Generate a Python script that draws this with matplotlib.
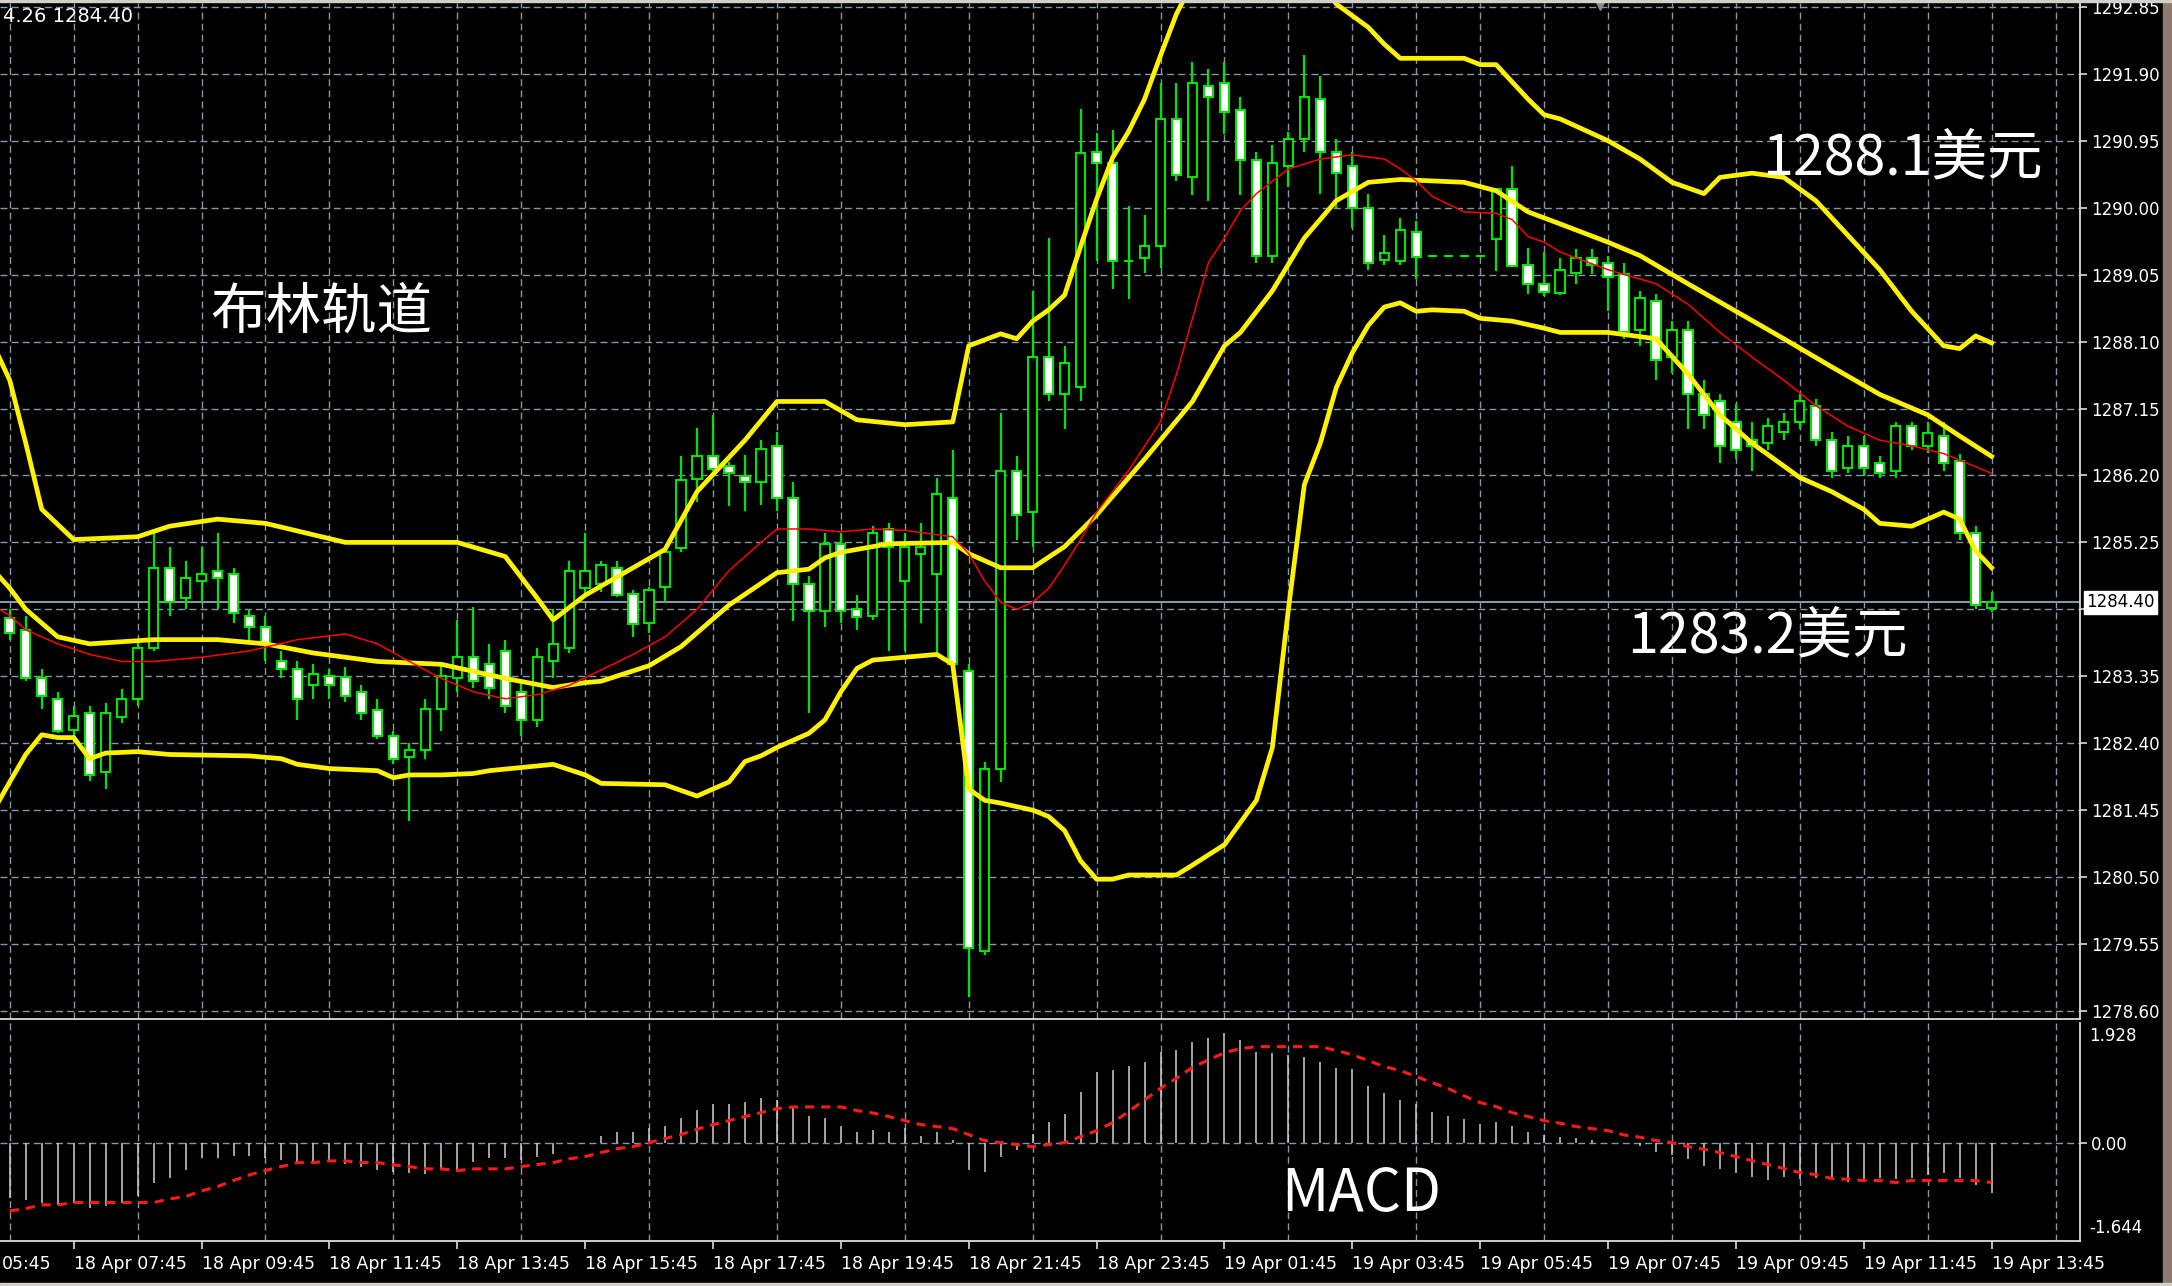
import numpy as np
import matplotlib.pyplot as plt

# 15 minute bars, 18 Apr 06:45 .. 19 Apr 13:45
opens = [1284.17, 1284.01, 1283.32, 1283.03, 1282.59, 1282.83, 1281.99, 1282.77, 1283.03, 1283.75,
         1284.89, 1284.46, 1284.70, 1284.85, 1284.80, 1284.21, 1284.05, 1283.56, 1283.46, 1283.22,
         1283.36, 1283.34, 1283.13, 1282.87, 1282.50, 1282.20, 1282.30, 1282.89, 1283.32, 1283.62,
         1283.52, 1283.71, 1283.13, 1282.73, 1283.56, 1283.75, 1284.60, 1284.66, 1284.89, 1284.52,
         1284.11, 1284.62, 1285.17, 1286.15, 1286.47, 1286.33, 1286.19, 1286.11, 1286.62, 1285.88,
         1284.66, 1284.28, 1285.23, 1284.30, 1284.21, 1285.44, 1284.70, 1285.09, 1284.80, 1285.88,
         1283.42, 1279.45, 1282.04, 1286.27, 1285.68, 1287.88, 1287.35, 1287.45, 1290.79, 1290.64,
         1289.25, 1289.28, 1289.45, 1291.26, 1290.43, 1291.73, 1291.77, 1291.38, 1290.67, 1289.31,
         1290.59, 1290.98, 1291.54, 1290.79, 1290.59, 1290.00, 1289.26, 1289.24, 1289.65, 1289.32,
         1289.32, 1289.32, 1289.32, 1289.55, 1290.26, 1289.19, 1288.91, 1288.79, 1289.08, 1289.28,
         1289.22, 1289.06, 1288.27, 1288.67, 1287.88, 1288.27, 1287.35, 1287.25, 1286.96, 1286.70,
         1286.66, 1286.82, 1286.96, 1287.19, 1286.70, 1286.31, 1286.62, 1286.37, 1286.27, 1286.90,
         1286.62, 1286.76, 1286.41, 1285.39, 1284.32]
highs = [1284.30, 1284.21, 1283.46, 1283.13, 1282.93, 1282.93, 1282.97, 1283.17, 1283.87, 1285.38,
         1285.19, 1284.99, 1285.19, 1285.38, 1284.89, 1284.30, 1284.21, 1283.71, 1283.56, 1283.52,
         1283.46, 1283.48, 1283.22, 1283.03, 1282.58, 1282.40, 1283.03, 1283.52, 1284.15, 1284.34,
         1283.81, 1283.87, 1283.28, 1283.75, 1284.30, 1284.99, 1285.38, 1284.99, 1284.99, 1284.58,
         1284.62, 1285.15, 1286.48, 1286.88, 1287.06, 1286.39, 1286.49, 1286.70, 1286.82, 1286.11,
         1284.78, 1285.38, 1285.38, 1284.50, 1285.48, 1285.52, 1285.38, 1285.52, 1286.17, 1286.56,
         1283.52, 1282.14, 1287.09, 1286.47, 1288.82, 1289.57, 1288.04, 1291.40, 1291.06, 1291.10,
         1290.02, 1289.90, 1291.77, 1291.77, 1292.07, 1291.97, 1292.07, 1291.57, 1290.79, 1290.89,
         1291.08, 1292.16, 1291.87, 1290.98, 1290.79, 1290.20, 1289.61, 1289.85, 1289.81, 1289.32,
         1289.32, 1289.32, 1289.32, 1290.28, 1290.59, 1289.43, 1289.37, 1289.29, 1289.41, 1289.41,
         1289.32, 1289.22, 1288.82, 1288.78, 1288.39, 1288.39, 1287.55, 1287.35, 1287.21, 1286.96,
         1287.02, 1287.09, 1287.35, 1287.29, 1286.82, 1286.76, 1286.76, 1286.47, 1286.96, 1286.96,
         1286.96, 1286.96, 1286.51, 1285.48, 1284.54]
lows = [1283.87, 1283.28, 1282.89, 1282.54, 1282.40, 1281.87, 1281.75, 1282.69, 1282.93, 1283.71,
        1284.21, 1284.30, 1284.40, 1284.30, 1284.11, 1283.87, 1283.56, 1283.32, 1282.73, 1283.03,
        1283.03, 1282.99, 1282.73, 1282.46, 1282.10, 1281.30, 1282.18, 1282.58, 1283.13, 1283.19,
        1283.03, 1282.83, 1282.50, 1282.63, 1283.32, 1283.68, 1284.50, 1284.54, 1284.48, 1283.91,
        1283.97, 1284.40, 1285.11, 1285.82, 1286.27, 1285.76, 1285.70, 1285.78, 1285.70, 1284.13,
        1282.83, 1284.05, 1284.11, 1284.01, 1284.15, 1283.71, 1283.71, 1284.11, 1283.62, 1283.32,
        1278.80, 1279.39, 1281.85, 1285.29, 1285.19, 1287.25, 1286.86, 1287.25, 1289.24, 1288.84,
        1288.71, 1289.07, 1289.14, 1290.38, 1290.18, 1290.10, 1291.04, 1290.18, 1289.22, 1289.22,
        1290.30, 1290.79, 1290.20, 1290.00, 1289.71, 1289.12, 1289.18, 1289.18, 1288.99, 1289.32,
        1289.32, 1289.32, 1289.32, 1289.10, 1289.17, 1288.78, 1288.75, 1288.76, 1288.92, 1289.06,
        1288.53, 1288.13, 1288.04, 1287.55, 1287.65, 1286.86, 1286.86, 1286.37, 1286.43, 1286.27,
        1286.56, 1286.70, 1286.86, 1286.62, 1286.17, 1286.23, 1286.19, 1286.17, 1286.17, 1286.56,
        1286.52, 1286.27, 1285.29, 1284.30, 1284.26]
closes = [1283.97, 1283.32, 1283.07, 1282.58, 1282.79, 1281.95, 1282.83, 1283.03, 1283.75, 1284.89,
          1284.40, 1284.74, 1284.80, 1284.74, 1284.25, 1284.05, 1283.81, 1283.46, 1283.03, 1283.38,
          1283.22, 1283.07, 1282.83, 1282.50, 1282.18, 1282.30, 1282.89, 1283.36, 1283.62, 1283.28,
          1283.19, 1282.93, 1282.73, 1283.62, 1283.81, 1284.85, 1284.85, 1284.93, 1284.50, 1284.09,
          1284.58, 1285.11, 1286.13, 1286.47, 1286.29, 1286.23, 1286.11, 1286.58, 1285.88, 1284.66,
          1284.28, 1285.23, 1284.28, 1284.19, 1285.38, 1285.19, 1285.19, 1285.19, 1285.94, 1283.52,
          1279.49, 1282.04, 1286.27, 1285.64, 1287.88, 1287.35, 1287.80, 1290.77, 1290.64, 1289.25,
          1289.24, 1289.45, 1291.26, 1290.47, 1291.77, 1291.57, 1291.36, 1290.67, 1289.31, 1290.63,
          1290.98, 1291.57, 1290.79, 1290.49, 1290.00, 1289.22, 1289.35, 1289.69, 1289.30, 1289.32,
          1289.32, 1289.32, 1289.32, 1290.26, 1289.17, 1288.91, 1288.80, 1289.11, 1289.28, 1289.18,
          1289.02, 1288.23, 1288.72, 1287.84, 1288.27, 1287.35, 1287.06, 1286.62, 1286.56, 1286.62,
          1286.90, 1286.96, 1287.25, 1286.70, 1286.27, 1286.62, 1286.31, 1286.23, 1286.90, 1286.62,
          1286.80, 1286.37, 1285.39, 1284.36, 1284.40]

# Bollinger bands and red moving average, read at bar positions (-1 = bar just left of the window)
ub_idx = [-1, 0, 1, 2, 4, 8, 10, 13, 16, 21, 28, 31, 33, 34, 36, 39, 41, 43, 46, 48, 51, 53, 56, 59, 60, 62,
          63, 64, 65, 66, 67, 68, 69, 70, 71, 72, 73, 74, 75, 76, 78, 80, 81, 82, 83, 85, 86, 87, 91, 92, 93,
          95, 96, 97, 100, 102, 104, 106, 107, 109, 111, 113, 115, 117, 119, 121, 122, 123, 124]
ub_val = [1288.04, 1287.55, 1286.66, 1285.72, 1285.29, 1285.33, 1285.48, 1285.58, 1285.52, 1285.25, 1285.25,
          1285.05, 1284.46, 1284.15, 1284.50, 1284.89, 1285.15, 1285.97, 1286.70, 1287.25, 1287.25,
          1286.99, 1286.92, 1286.96, 1288.04, 1288.21, 1288.14, 1288.39, 1288.55, 1288.76, 1289.45,
          1290.12, 1290.71, 1291.08, 1291.54, 1292.16, 1292.75, 1293.20, 1293.55, 1293.80, 1294.00,
          1293.80, 1293.50, 1293.20, 1292.89, 1292.56, 1292.32, 1292.12, 1292.12, 1292.03, 1292.03,
          1291.54, 1291.32, 1291.26, 1290.95, 1290.69, 1290.36, 1290.20, 1290.43, 1290.49, 1290.43,
          1290.10, 1289.61, 1289.12, 1288.53, 1288.04, 1288.00, 1288.18, 1288.08]
mb_idx = [-1, 0, 1, 3, 5, 9, 13, 16, 19, 23, 27, 31, 34, 36, 37, 40, 42, 45, 48, 50, 51, 52, 55, 59, 60, 62,
          64, 66, 68, 71, 74, 76, 77, 79, 81, 83, 85, 87, 91, 93, 95, 97, 100, 102, 105, 108, 111, 114, 117,
          120, 122, 124]
mb_val = [1284.85, 1284.60, 1284.30, 1283.91, 1283.81, 1283.87, 1283.87, 1283.81, 1283.68, 1283.56, 1283.52,
          1283.32, 1283.19, 1283.26, 1283.28, 1283.50, 1283.77, 1284.36, 1284.82, 1284.87, 1285.03,
          1285.11, 1285.23, 1285.25, 1285.09, 1284.89, 1284.89, 1285.19, 1285.64, 1286.43, 1287.25,
          1288.04, 1288.23, 1288.82, 1289.57, 1290.10, 1290.36, 1290.40, 1290.36, 1290.24, 1289.94,
          1289.77, 1289.51, 1289.32, 1288.92, 1288.53, 1288.14, 1287.74, 1287.35, 1287.06, 1286.76,
          1286.47]
lb_idx = [-1, 0, 1, 2, 3, 4, 5, 6, 8, 10, 15, 17, 18, 19, 20, 23, 24, 25, 27, 29, 30, 34, 36, 37, 41, 43,
          45, 46, 47, 48, 50, 51, 52, 53, 54, 56, 58, 59, 60, 61, 62, 64, 65, 66, 67, 68, 69, 70, 73, 74, 76,
          78, 79, 80, 81, 82, 83, 84, 85, 86, 87, 88, 89, 91, 92, 94, 96, 97, 100, 103, 105, 107, 109, 112,
          114, 116, 117, 119, 121, 122, 123, 124]
lb_val = [1281.45, 1281.85, 1282.24, 1282.52, 1282.48, 1282.48, 1282.18, 1282.26, 1282.28, 1282.24, 1282.22,
          1282.18, 1282.10, 1282.07, 1282.04, 1282.01, 1281.91, 1281.95, 1281.95, 1281.97, 1282.01,
          1282.10, 1281.95, 1281.83, 1281.81, 1281.65, 1281.85, 1282.14, 1282.22, 1282.34, 1282.54,
          1282.73, 1283.13, 1283.46, 1283.58, 1283.62, 1283.66, 1283.52, 1281.75, 1281.59, 1281.55,
          1281.45, 1281.36, 1281.16, 1280.73, 1280.47, 1280.47, 1280.53, 1280.53, 1280.67, 1280.96,
          1281.59, 1282.34, 1284.30, 1286.07, 1286.66, 1287.45, 1287.94, 1288.33, 1288.59, 1288.65,
          1288.53, 1288.55, 1288.53, 1288.43, 1288.39, 1288.29, 1288.23, 1288.23, 1288.14, 1287.64,
          1287.06, 1286.66, 1286.17, 1285.97, 1285.72, 1285.52, 1285.48, 1285.68, 1285.58, 1285.13,
          1284.89]
ma_idx = [-1, 0, 1, 3, 5, 7, 9, 12, 15, 18, 21, 23, 25, 27, 29, 31, 33, 35, 37, 39, 41, 43, 45, 47, 48, 50,
          52, 54, 56, 59, 60, 61, 62, 63, 64, 65, 66, 67, 68, 70, 72, 73, 74, 75, 76, 77, 78, 80, 82, 84, 86,
          87, 88, 89, 91, 93, 94, 95, 96, 97, 100, 103, 105, 107, 109, 111, 113, 115, 117, 119, 121, 124]
ma_val = [1284.35, 1284.21, 1284.01, 1283.81, 1283.66, 1283.56, 1283.56, 1283.62, 1283.71, 1283.87, 1283.95,
          1283.81, 1283.56, 1283.32, 1283.13, 1283.03, 1283.09, 1283.22, 1283.44, 1283.66, 1283.91,
          1284.30, 1284.85, 1285.25, 1285.44, 1285.44, 1285.40, 1285.44, 1285.42, 1285.33, 1285.09,
          1284.70, 1284.40, 1284.30, 1284.40, 1284.60, 1284.93, 1285.29, 1285.68, 1286.27, 1286.96,
          1287.64, 1288.43, 1289.22, 1289.57, 1289.96, 1290.20, 1290.55, 1290.69, 1290.75, 1290.69,
          1290.55, 1290.38, 1290.16, 1289.94, 1289.92, 1289.83, 1289.59, 1289.51, 1289.37, 1289.12,
          1288.92, 1288.63, 1288.23, 1287.88, 1287.55, 1287.19, 1286.90, 1286.70, 1286.62, 1286.51,
          1286.23]

# MACD histogram and signal
macd_hist = [-0.935, -0.963, -1.008, -1.047, -1.019, -1.103, -1.064, -1.019, -0.896, -0.683,
             -0.599, -0.459, -0.263, -0.252, -0.218, -0.224, -0.263, -0.291, -0.336, -0.358,
             -0.319, -0.358, -0.403, -0.459, -0.487, -0.515, -0.526, -0.431, -0.459, -0.319,
             -0.252, -0.252, -0.291, -0.235, -0.190, -0.010, -0.010, 0.112, 0.185, 0.185,
             0.241, 0.280, 0.420, 0.549, 0.644, 0.650, 0.689, 0.745, 0.717, 0.577,
             0.448, 0.420, 0.280, 0.185, 0.213, 0.185, 0.241, 0.118, 0.185, 0.045,
             -0.459, -0.487, -0.246, -0.123, 0.146, 0.353, 0.482, 0.857, 1.193, 1.221,
             1.288, 1.361, 1.529, 1.557, 1.697, 1.753, 1.848, 1.725, 1.529, 1.501,
             1.473, 1.445, 1.361, 1.249, 1.232, 0.952, 0.829, 0.717, 0.644, 0.521,
             0.448, 0.392, 0.314, 0.353, 0.280, 0.185, 0.129, 0.090, 0.084, 0.045,
             0.000, 0.000, -0.056, -0.151, -0.207, -0.280, -0.392, -0.448, -0.515, -0.582,
             -0.627, -0.571, -0.616, -0.599, -0.616, -0.655, -0.627, -0.599, -0.616, -0.599,
             -0.543, -0.515, -0.599, -0.711, -0.840]
macd_signal = [-1.148, -1.109, -1.047, -1.047, -1.008, -1.008, -1.008, -1.008, -1.008, -1.008,
               -0.946, -0.907, -0.812, -0.739, -0.638, -0.543, -0.470, -0.403, -0.336, -0.336,
               -0.308, -0.308, -0.336, -0.336, -0.375, -0.403, -0.442, -0.442, -0.470, -0.442,
               -0.442, -0.442, -0.403, -0.369, -0.336, -0.274, -0.235, -0.168, -0.101, -0.067,
               0.000, 0.067, 0.134, 0.224, 0.302, 0.370, 0.437, 0.504, 0.571, 0.599,
               0.599, 0.599, 0.599, 0.538, 0.498, 0.437, 0.370, 0.302, 0.269, 0.235,
               0.134, 0.034, 0.000, -0.034, -0.067, -0.034, 0.000, 0.100, 0.200, 0.336,
               0.520, 0.717, 0.913, 1.081, 1.266, 1.389, 1.512, 1.579, 1.613, 1.613,
               1.613, 1.613, 1.613, 1.546, 1.478, 1.378, 1.277, 1.210, 1.109, 1.008,
               0.907, 0.784, 0.672, 0.605, 0.504, 0.437, 0.370, 0.325, 0.269, 0.235,
               0.202, 0.129, 0.090, 0.034, 0.000, -0.067, -0.112, -0.168, -0.235, -0.302,
               -0.370, -0.437, -0.504, -0.538, -0.605, -0.616, -0.638, -0.638, -0.672, -0.638,
               -0.638, -0.638, -0.638, -0.638, -0.672]

price_ticks = [1278.60, 1279.55, 1280.50, 1281.45, 1282.40, 1283.35, 1284.30, 1285.25,
               1286.20, 1287.15, 1288.10, 1289.05, 1290.00, 1290.95, 1291.90, 1292.85]
last_price = 1284.40
label_bars = [4, 12, 20, 28, 36, 44, 52, 60, 68, 76, 84, 92, 100, 108, 116, 124]
time_labels = ['18 Apr 07:45', '18 Apr 09:45', '18 Apr 11:45', '18 Apr 13:45',
               '18 Apr 15:45', '18 Apr 17:45', '18 Apr 19:45', '18 Apr 21:45', '18 Apr 23:45',
               '19 Apr 01:45', '19 Apr 03:45', '19 Apr 05:45', '19 Apr 07:45', '19 Apr 09:45',
               '19 Apr 11:45', '19 Apr 13:45']
# the 18 Apr 05:45 label sits left of the window, only its time shows
first_label_tail = '05:45'

GRID = '#8797a8'
GREEN = '#00e400'
YELLOW = '#fff200'
AXIS = '#dcdcdc'
CJK = ['Noto Sans CJK SC', 'DejaVu Sans']
W, H = 2172, 1286
XLIM = (-0.61, 129.53)

plt.rcParams['font.family'] = ['DejaVu Sans']
fig = plt.figure(figsize=(W / 100, H / 100), dpi=100, facecolor='black')

ax = fig.add_axes([0, 1 - 1019 / H, 2080 / W, 1016 / H])
ax2 = fig.add_axes([0, 1 - 1241 / H, 2080 / W, 218 / H])
for a in (ax, ax2):
    a.set_facecolor('black')
    for s in ('left', 'top'):
        a.spines[s].set_visible(False)
    for s in ('right', 'bottom'):
        a.spines[s].set_color(AXIS)
        a.spines[s].set_linewidth(1.3)

# ---- main price panel ----
x = np.arange(len(opens))
o = np.array(opens)
c = np.array(closes)
ax.vlines(x, lows, highs, color=GREEN, lw=1.6, zorder=3)
body_lo = np.minimum(o, c)
body_h = np.abs(c - o)
face = ['white' if cc < oo else 'black' for oo, cc in zip(opens, closes)]
ax.bar(x, body_h, bottom=body_lo, width=0.58, color=face, edgecolor=GREEN, linewidth=1.5, zorder=4)

ax.plot(ub_idx, ub_val, color=YELLOW, lw=3.4, zorder=5)
ax.plot(mb_idx, mb_val, color=YELLOW, lw=3.4, zorder=5)
ax.plot(lb_idx, lb_val, color=YELLOW, lw=3.4, zorder=5)
ax.plot(ma_idx, ma_val, color='#ff0000', lw=1.1, zorder=5)

ax.axhline(last_price, color=GRID, lw=1.5, zorder=2)
ax.set_yticks(price_ticks)
ax.set_yticklabels(['' if abs(p - 1284.30) < 0.01 else f'{p:.2f}' for p in price_ticks])
ax.yaxis.tick_right()
ax.tick_params(axis='y', colors=AXIS, labelcolor='white', labelsize=12, length=5, width=1.2, pad=3)
ax.set_xticks(range(0, 130, 4))
ax.tick_params(axis='x', length=0, labelbottom=False)
ax.grid(True, color=GRID, ls=(0, (5, 3)), lw=1.0, zorder=1)
ax.set_axisbelow(True)
ax.set_xlim(*XLIM)
ax.set_ylim(1278.486, 1292.905)
ax.text(1.003, last_price, '1284.40', transform=ax.get_yaxis_transform(), ha='left', va='center',
        fontsize=12, color='black', clip_on=False, zorder=10,
        bbox=dict(boxstyle='square,pad=0.15', fc='white', ec='white'))
ax.plot([99.5], [1292.87], marker='v', ms=7, color='#8a8a8a', clip_on=False, zorder=6)

# ---- MACD panel ----
ax2.vlines(x, 0, macd_hist, color='#cfcfcf', lw=1.1, zorder=3)
ax2.plot(x, macd_signal, color='#ff1a1a', lw=2.2, ls=(0, (3, 2.3)), zorder=4)
ax2.axhline(0, color=GRID, ls=(0, (5, 3)), lw=1.0, zorder=1)
ax2.set_yticks([0])
ax2.set_yticklabels(['0.00'])
ax2.yaxis.tick_right()
ax2.tick_params(axis='y', colors=AXIS, labelcolor='white', labelsize=12, length=5, width=1.2, pad=3)
for val, lab in ((1.79, '1.928'), (-1.435, '-1.644')):
    ax2.text(1.0045, val, lab, transform=ax2.get_yaxis_transform(), ha='left', va='center',
             fontsize=12, color='white', clip_on=False)
ax2.set_xticks(range(0, 130, 4), minor=True)
ax2.set_xticks(label_bars)
ax2.set_xticklabels(time_labels, ha='left')
ax2.tick_params(axis='x', which='major', colors=AXIS, labelcolor='white', labelsize=12.5,
                length=6, width=1.2, pad=4)
ax2.tick_params(axis='x', which='minor', length=0)
ax2.grid(True, which='minor', axis='x', color=GRID, ls=(0, (5, 3)), lw=1.0, zorder=1)
ax2.set_axisbelow(True)
ax2.set_xlim(*XLIM)
ax2.set_ylim(-1.654, 2.01)
ax2.annotate(first_label_tail, xy=(0, 0), xycoords='axes fraction',
             xytext=(1, -10), textcoords='offset points', ha='left', va='top',
             fontsize=12.5, color='white', annotation_clip=False)

# ---- annotations ----
fig.text(0.0015, 1 - 16 / H, '4.26 1284.40', color='white', fontsize=14, va='center', ha='left')
fig.text(210 / W, 1 - 313 / H, '布林轨道', color='white', fontsize=40, family=CJK, va='center', ha='left')
fig.text(1762 / W, 1 - 159 / H, '1288.1美元', color='white', fontsize=40, family=CJK, va='center', ha='left')
fig.text(1627 / W, 1 - 637 / H, '1283.2美元', color='white', fontsize=40, family=CJK, va='center', ha='left')
fig.text(1281 / W, 1 - 1195 / H, 'MACD', color='white', fontsize=42, family=CJK, va='center', ha='left')

# window edges
fig.patches.append(plt.Rectangle((2163 / W, 0), 9 / W, 1, transform=fig.transFigure,
                                 color='#8c7b6e', zorder=0))
fig.patches.append(plt.Rectangle((0, 0), 1, 3 / H, transform=fig.transFigure, color='#d4d0c8', zorder=0))
fig.patches.append(plt.Rectangle((0, 1 - 2 / H), 1, 2 / H, transform=fig.transFigure, color='#d4d0c8', zorder=0))

fig.savefig('out.png', dpi=100, facecolor='black')
